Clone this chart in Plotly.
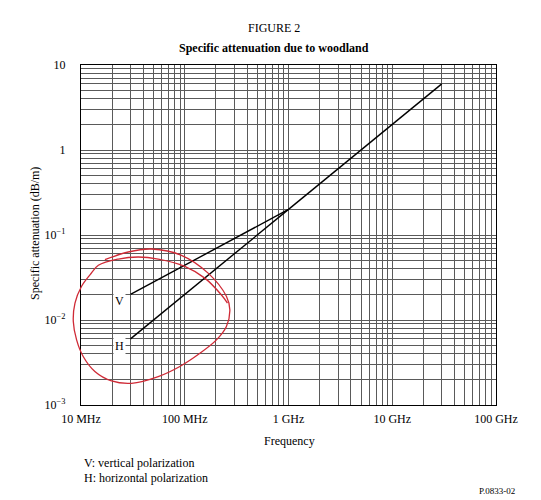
import math

import plotly.graph_objects as go

FONT = "Liberation Serif"
W, H = 541, 500
# plot frame edges in page pixels (left, right, top, bottom)
PL, PR, PT, PB = 73, 488, 57, 397

X_DECADES = [1e7, 1e8, 1e9, 1e10, 1e11]
X_LABELS = ["10 MHz", "100 MHz", "1 GHz", "10 GHz", "100 GHz"]
Y_DECADES = [1e-3, 1e-2, 1e-1, 1, 10]
Y_LABELS = ["10<sup>−3</sup>", "10<sup>−2</sup>", "10<sup>−1</sup>", "1", "10"]

# specific attenuation (dB/m) vs frequency (Hz)
V_FREQ = [30e6, 1e9]
V_ATT = [0.02, 0.2]
H_FREQ = [30e6, 1e9]
H_ATT = [0.006, 0.2]
VH_FREQ = [1e9, 30e9]
VH_ATT = [0.2, 6]

# hand-drawn red loop around the V / H labels
LOOP_FREQ = [
    1.70e7, 2.85e7, 4.78e7, 9.29e7, 1.68e8, 2.52e8, 2.72e8, 2.52e8, 2.02e8, 1.40e8,
    8.97e7, 5.55e7, 3.07e7, 1.97e7, 1.36e7, 1.05e7, 9.07e6, 8.43e6, 8.75e6, 1.01e7,
    1.22e7, 1.47e7, 2.29e7, 3.56e7, 5.55e7, 1.00e8, 1.56e8, 2.25e8, 2.58e8,
]
LOOP_ATT = [
    0.0512, 0.0631, 0.0684, 0.0577, 0.0356, 0.0190, 0.0132, 0.00839, 0.00583, 0.00406,
    0.00284, 0.00216, 0.00180, 0.00192, 0.00248, 0.00372, 0.00583, 0.00962, 0.0158, 0.0248,
    0.0340, 0.0440, 0.0521, 0.0551, 0.0521, 0.0428, 0.0311, 0.0198, 0.0158,
]

# curve labels: (text, frequency, attenuation)
CURVE_LABELS = [("V", 2.37e7, 0.0166), ("H", 2.37e7, 0.00495)]


def minor_grid(decades):
    # 2..9 within every decade
    return [d * k for d in decades[:-1] for k in range(2, 10)]


x_lo, x_hi = math.log10(X_DECADES[0]), math.log10(X_DECADES[-1])
y_lo, y_hi = math.log10(Y_DECADES[0]), math.log10(Y_DECADES[-1])
px_x = (PR - PL) / (x_hi - x_lo)
px_y = (PB - PT) / (y_hi - y_lo)

fig = go.Figure()
line = dict(color="black", width=1.4)
for fx, fy in [(V_FREQ, V_ATT), (H_FREQ, H_ATT), (VH_FREQ, VH_ATT)]:
    fig.add_trace(go.Scatter(x=fx, y=fy, mode="lines", line=line, hoverinfo="skip"))

# red loop on a full-page overlay subplot so it is not clipped at the frame
fig.add_trace(
    go.Scatter(
        x=LOOP_FREQ,
        y=LOOP_ATT,
        mode="lines",
        line=dict(color="#cf2a36", width=1.3, shape="spline", smoothing=1),
        xaxis="x2",
        yaxis="y2",
        hoverinfo="skip",
    )
)

GRID_COLOR = "#5a5a5a"
grid = dict(showgrid=True, gridcolor=GRID_COLOR, gridwidth=1, zeroline=False,
            showline=True, linecolor="black", linewidth=1.4, mirror=True,
            ticks="", automargin=False, fixedrange=True,
            tickfont=dict(family=FONT, size=12, color="black"))

annotations = [
    dict(text=t, x=math.log10(f), y=math.log10(a), xref="x", yref="y",
         showarrow=False, bgcolor="white", borderpad=1,
         font=dict(family=FONT, size=12, color="black"))
    for t, f, a in CURVE_LABELS
]


def page_text(text, x, y, size=12, xanchor="center", angle=0):
    return dict(text=text, x=x / W, y=1 - y / H, xref="paper", yref="paper",
                xanchor=xanchor, yanchor="middle", showarrow=False, textangle=angle,
                font=dict(family=FONT, size=size, color="black"))


annotations += [
    page_text("FIGURE 2", 266, 20),
    page_text("<b>Specific attenuation due to woodland</b>", 266, 40),
    page_text("Frequency", 281, 433),
    page_text("Specific attenuation (dB/m)", 27, 226, angle=-90),
    page_text("V: vertical polarization", 74, 455, xanchor="left"),
    page_text("H: horizontal polarization", 74, 470, xanchor="left"),
    page_text("P.0833-02", 509, 483, size=9, xanchor="right"),
]

fig.update_layout(
    width=W,
    height=H,
    margin=dict(l=0, r=0, t=0, b=0),
    paper_bgcolor="white",
    # transparent so the full-page overlay subplot does not hide the chart
    plot_bgcolor="rgba(0,0,0,0)",
    showlegend=False,
    hovermode=False,
    xaxis=dict(type="log", range=[x_lo, x_hi], domain=[PL / W, PR / W],
               tickmode="array", tickvals=X_DECADES, ticktext=X_LABELS,
               ticklabelstandoff=2,
               minor=dict(tickmode="array", tickvals=minor_grid(X_DECADES),
                          showgrid=True, gridcolor=GRID_COLOR, gridwidth=1, ticks=""),
               **grid),
    yaxis=dict(type="log", range=[y_lo, y_hi], domain=[1 - PB / H, 1 - PT / H],
               tickmode="array", tickvals=Y_DECADES, ticktext=Y_LABELS,
               ticklabelstandoff=12,
               minor=dict(tickmode="array", tickvals=minor_grid(Y_DECADES),
                          showgrid=True, gridcolor=GRID_COLOR, gridwidth=1, ticks=""),
               **grid),
    xaxis2=dict(type="log", domain=[0, 1], anchor="y2", visible=False, fixedrange=True,
                range=[x_lo - PL / px_x, x_hi + (W - PR) / px_x]),
    yaxis2=dict(type="log", domain=[0, 1], anchor="x2", visible=False, fixedrange=True,
                range=[y_lo - (H - PB) / px_y, y_hi + PT / px_y]),
    annotations=annotations,
)

fig.write_html("out.html", config={"displayModeBar": False})
